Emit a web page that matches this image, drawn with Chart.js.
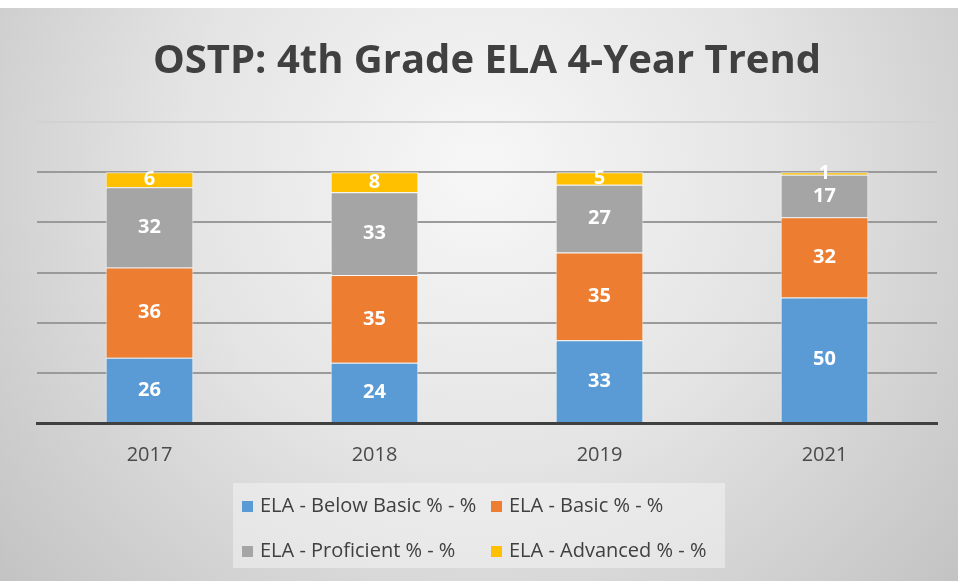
<!DOCTYPE html>
<html>
<head>
<meta charset="utf-8">
<script src="https://cdn.jsdelivr.net/npm/chart.js@4.4.1/dist/chart.umd.min.js"></script>
<style>
  html, body { margin: 0; padding: 0; background: #ffffff; }
  #wrap { width: 958px; height: 581px; position: relative; }
</style>
</head>
<body>
<div id="wrap"><canvas id="trendChart" width="958" height="581"></canvas></div>
<script>
// 年度與各等級百分比
const years = ["2017", "2018", "2019", "2021"];
const belowBasic = [26, 24, 33, 50];
const basic = [36, 35, 35, 32];
const proficient = [32, 33, 27, 17];
const advanced = [6, 8, 5, 1];
const seriesNames = [
  "ELA - Below Basic % - %",
  "ELA - Basic % - %",
  "ELA - Proficient % - %",
  "ELA - Advanced % - %",
];
const seriesColors = ["#5b9bd5", "#ed7d31", "#a5a5a5", "#ffc000"];
const titleText = "OSTP: 4th Grade ELA 4-Year Trend";
const textColor = "#404040";
const fontFamily = "'Open Sans', 'Noto Sans', sans-serif";

// 背景 + 標題
const backgroundPlugin = {
  id: "backgroundPlugin",
  beforeDraw(chart) {
    const ctx = chart.ctx;
    const w = chart.width;
    const h = chart.height;
    ctx.save();
    ctx.fillStyle = "#ffffff";
    ctx.fillRect(0, 0, w, h);
    const g = ctx.createRadialGradient(480, 170, 20, 480, 170, 640);
    g.addColorStop(0, "#f6f6f6");
    g.addColorStop(0.45, "#e4e4e4");
    g.addColorStop(1, "#c2c2c2");
    ctx.fillStyle = g;
    ctx.fillRect(0, 8, w, h - 8);
    ctx.fillStyle = textColor;
    ctx.font = "bold 40px " + fontFamily;
    ctx.textAlign = "center";
    ctx.textBaseline = "middle";
    ctx.fillText(titleText, 487, 62);
    ctx.restore();
  },
};

// 柱內數值標籤
const valueLabelPlugin = {
  id: "valueLabelPlugin",
  afterDatasetsDraw(chart) {
    const ctx = chart.ctx;
    ctx.save();
    ctx.fillStyle = "#ffffff";
    ctx.font = "bold 20px " + fontFamily;
    ctx.textAlign = "center";
    ctx.textBaseline = "middle";
    chart.data.datasets.forEach((ds, i) => {
      const meta = chart.getDatasetMeta(i);
      meta.data.forEach((bar, j) => {
        const mid = (bar.y + bar.base) / 2;
        ctx.fillText(String(ds.data[j]), bar.x, mid);
      });
    });
    ctx.restore();
  },
};

// 下方圖例框
const legendBoxPlugin = {
  id: "legendBoxPlugin",
  afterDraw(chart) {
    const ctx = chart.ctx;
    ctx.save();
    ctx.fillStyle = "rgba(245,245,245,0.5)";
    ctx.fillRect(233, 483, 492, 85);
    const cols = [242, 491];
    const rows = [506, 551];
    ctx.font = "20px " + fontFamily;
    ctx.textBaseline = "middle";
    ctx.textAlign = "left";
    chart.data.datasets.forEach((ds, i) => {
      const x = cols[i % 2];
      const y = rows[Math.floor(i / 2)];
      ctx.fillStyle = ds.backgroundColor;
      ctx.fillRect(x, y - 5, 11, 11);
      ctx.fillStyle = textColor;
      ctx.fillText(ds.label, x + 18, y);
    });
    ctx.restore();
  },
};

const values = [belowBasic, basic, proficient, advanced];
const data = {
  labels: years,
  datasets: values.map((arr, i) => ({
    label: seriesNames[i],
    data: arr,
    backgroundColor: seriesColors[i],
    borderColor: "rgba(255,255,255,0.75)",
    borderWidth: 1,
    barPercentage: 0.39,
    categoryPercentage: 1,
  })),
};

const config = {
  type: "bar",
  data: data,
  options: {
    responsive: false,
    animation: false,
    layout: { padding: { top: 122, left: 37, right: 21, bottom: 94 } },
    plugins: {
      legend: { display: false },
      title: { display: false },
      tooltip: { enabled: false },
    },
    scales: {
      x: {
        stacked: true,
        grid: { display: false, drawTicks: false },
        border: { display: true, color: "#404040", width: 3 },
        ticks: {
          color: "#4a4a4a",
          font: { size: 20, family: fontFamily },
          padding: 20,
        },
      },
      y: {
        stacked: true,
        min: 0,
        max: 120,
        ticks: { display: false, stepSize: 20 },
        border: { display: false },
        grid: {
          drawTicks: false,
          lineWidth: 2,
          color: (c) => (c.tick && c.tick.value === 120 ? "#d2d2d2" : "#9a9a9a"),
        },
      },
    },
  },
  plugins: [backgroundPlugin, valueLabelPlugin, legendBoxPlugin],
};

const trendChart = new Chart(document.querySelector("#trendChart"), config);
</script>
</body>
</html>
